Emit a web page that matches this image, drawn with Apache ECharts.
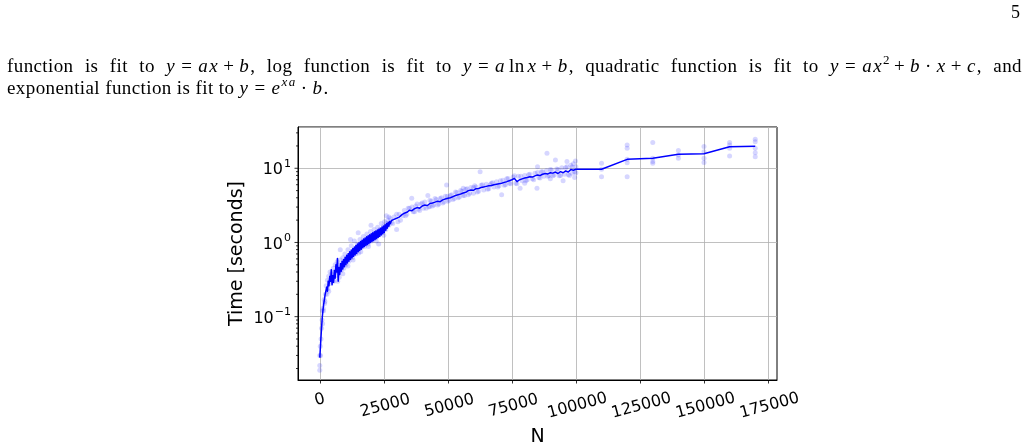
<!DOCTYPE html>
<html><head><meta charset="utf-8">
<script src="https://cdn.jsdelivr.net/npm/echarts@6/dist/echarts.min.js"></script>
<style>
html,body{margin:0;padding:0;background:#fff;width:1028px;height:447px;overflow:hidden;}
#chart{position:absolute;left:0;top:0;width:1028px;height:447px;}
.txt{position:absolute;font-family:"Liberation Serif","DejaVu Serif",serif;font-size:19px;color:#000;white-space:nowrap;line-height:22px;letter-spacing:0.4px;}
#pg{left:1011px;top:1px;letter-spacing:0;font-size:18px;}
#l1{left:7px;top:55px;width:1015px;text-align:justify;text-align-last:justify;white-space:normal;}
#l2{left:7px;top:77px;}
sup{font-size:13px;line-height:0;vertical-align:0;position:relative;top:-8px;}
i{font-style:italic;letter-spacing:1.5px;}
.rel{margin:0 6px 0 5px;}
.bin{margin:0 5px 0 4px;}
.fn{margin:0 3px 0 3px;}
</style></head>
<body>
<div id="chart"></div>
<div class="txt" id="pg">5</div>
<div class="txt" id="l1">function is fit to <i>y</i><span class="rel">=</span><i>ax</i><span class="bin">+</span><i>b</i>, log function is fit to <i>y</i><span class="rel">=</span><i>a</i><span class="fn">ln</span><i>x</i><span class="bin">+</span><i>b</i>, quadratic function is fit to <i>y</i><span class="rel">=</span><i>ax</i><sup>2</sup><span class="bin">+</span><i>b</i><span class="bin">·</span><i>x</i><span class="bin">+</span><i>c</i>, and</div>
<div class="txt" id="l2">exponential function is fit to <i>y</i><span class="rel">=</span><i>e</i><sup><i>xa</i></sup><span class="bin">·</span><i>b</i>.</div>
<script>
// ---- data ----
const xTicks = [0, 25000, 50000, 75000, 100000, 125000, 150000, 175000];
const yMajorTicks = [0.1, 1, 10];
const yMinorTicks = [0.02,0.03,0.04,0.05,0.06,0.07,0.08,0.09,0.2,0.3,0.4,0.5,0.6,0.7,0.8,0.9,2,3,4,5,6,7,8,9,20,30];

// mean run time per N (seconds)
const meanCurve = [
[0,0.028],[200,0.036],[400,0.048],[600,0.062],[800,0.08],[1000,0.1],[1200,0.118],[1500,0.145],[1800,0.17],[2100,0.2],[2400,0.19],[2700,0.25],[3000,0.22],[3300,0.3],[3600,0.26],[3900,0.35],[4200,0.3],[4500,0.43],[4800,0.27],[5100,0.36],[5400,0.29],[5700,0.42],[6000,0.33],[6300,0.5],[6600,0.4],[6900,0.61],[7200,0.3],[7500,0.46],[7800,0.37],[8100,0.52],[8400,0.41],[8700,0.56],[9000,0.44],[9300,0.59],[9600,0.47],[9900,0.63],[10200,0.5],[10500,0.67],[10800,0.53],[11100,0.71],[11400,0.56],[11700,0.75],[12000,0.59],[12300,0.79],[12600,0.62],[12900,0.83],[13200,0.65],[13500,0.87],[13800,0.68],[14100,0.91],[14400,0.71],[14700,0.95],[15000,0.75],[15300,0.99],[15600,0.78],[15900,1.03],[16200,0.81],[16500,1.07],[16800,0.85],[17100,1.11],[17400,0.88],[17700,1.15],[18000,0.91],[18300,1.19],[18600,0.94],[18900,1.23],[19200,0.97],[19500,1.27],[19800,1.0],[20100,1.31],[20400,1.03],[20700,1.35],[21000,1.06],[21300,1.39],[21600,1.1],[21900,1.43],[22200,1.13],[22500,1.47],[22800,1.17],[23100,1.51],[23400,1.21],[23700,1.56],[24000,1.26],[24300,1.61],[24600,1.31],[24900,1.67],[25200,1.37],[25500,1.73],[25800,1.46],[26100,1.8],[26400,1.56],[26700,1.87],[27000,1.66],[27300,1.92],[27600,1.8],[28000,1.98],
[29000,2.05],[30000,2.12],[31000,2.2],[32000,2.35],[33000,2.48],[34000,2.55],[35000,2.72],[36000,2.68],[37000,2.85],[38000,2.95],[39000,2.9],[40000,3.1],[41000,3.2],[42000,3.15],[43000,3.35],[44000,3.4],[45000,3.5],[46000,3.6],[47000,3.55],[48000,3.75],[49000,3.85],[50000,3.95],[51000,4.0],[52000,4.15],[53000,4.3],[54000,4.4],[55000,4.5],[56000,4.65],[57000,4.75],[58000,5.0],[59000,5.1],[60000,5.05],[61000,5.3],[62000,5.35],[63000,5.5],[64000,5.6],[65000,5.7],[66000,5.8],[67000,5.85],[68000,6.0],[69000,6.1],[70000,6.2],[71000,6.3],[72000,6.45],[73000,6.6],[74000,6.8],[75000,7.0],[76000,7.3],[77000,6.6],[78000,7.0],[79000,7.2],[80000,7.4],[81000,7.5],[82000,7.7],[83000,7.6],[84000,7.9],[85000,8.1],[86000,8.0],[87000,8.3],[88000,8.5],[89000,8.4],[90000,8.7],[91000,8.6],[92000,8.9],[93000,8.5],[94000,9.0],[95000,8.7],[96000,9.2],[97000,8.9],[98000,9.6],[99000,9.4],[100000,9.7],
[110000,9.7],[120000,13.2],[130000,13.6],[140000,15.4],[150000,15.7],[160000,19.5],[170000,19.8]
];

// individual runs (seconds)
const runPoints = [
[0,0.019],[0,0.022],[0,0.03],[200,0.04],[300,0.03],[500,0.05],[700,0.07],[900,0.09],[1100,0.08],[1300,0.13],[1500,0.12],[1700,0.17],[1900,0.15],[2200,0.2],[2500,0.26],[2800,0.2],[3000,0.31],[3200,0.24],[3500,0.35],[3800,0.3],[4000,0.4],[4300,0.28],[4600,0.38],[5000,0.33],[5300,0.45],[5600,0.3],[6000,0.5],[6300,0.36],[6800,0.55],[7000,0.4],[7300,0.5],[7600,0.34],[8000,0.58],[8300,0.42],[8700,0.48],[9000,0.62],[9400,0.45],[9800,0.7],[10200,0.5],[10500,0.6],[11000,0.8],[11400,0.56],[11800,0.68],[12300,0.9],[12700,0.62],[13100,0.75],[13500,1.05],[14000,0.7],[14400,0.85],[14800,0.95],[15200,0.72],[15700,1.1],[16100,0.85],[16600,0.98],[17000,1.2],[17500,0.88],[18000,1.05],[18400,1.3],[18900,0.95],[19300,1.15],[19800,1.4],[20300,1.05],[20700,1.25],[21200,1.5],[21700,1.15],[22100,1.35],[22600,1.6],[23000,1.25],[23500,1.5],[24000,1.8],[24400,1.35],[24900,1.65],[25300,1.9],[25800,1.5],[26200,1.8],[26600,2.0],[27000,1.7],[27500,2.1],[27900,1.85],[26000,2.3],[20000,1.7],[15000,1.35],[12000,1.1],[8000,0.8],[30000,1.5],[23000,0.95],
[1000,0.12],[2000,0.16],[3500,0.22],[5500,0.4],[7000,0.3],[9000,0.38],[11000,0.48],[13000,0.58],[16000,0.75],[19000,0.88],[22000,1.05],[25000,1.25],
[29000,2.2],[30500,1.9],[31000,2.4],[32500,2.3],[33000,2.7],[34000,2.4],[35000,2.9],[35900,3.95],[36500,2.6],[37500,3.1],[38500,2.8],[39500,3.3],[40500,2.9],[41000,3.5],[42200,4.3],[42500,3.0],[43500,3.6],[44500,3.2],[45500,3.8],[46500,3.3],[47500,4.0],[48500,3.5],[49500,5.95],[49800,4.2],[50500,3.7],[51500,4.4],[52500,3.9],[53500,4.7],[54500,4.1],[55500,4.9],[56500,4.3],[57500,5.3],[58000,4.4],[59000,5.5],[60000,4.6],[61000,5.6],[62000,4.9],[62600,9.0],[63000,5.9],[64000,5.1],[65000,6.1],[66000,5.3],[67000,6.3],[68000,5.6],[69000,6.6],[70000,5.8],[71000,4.4],[71500,6.9],[72500,6.0],[73500,7.3],[74500,6.2],[75500,7.6],[76500,6.3],[77500,7.8],[78200,5.4],[79000,6.8],[80000,8.0],[81000,7.0],[82000,8.3],[83000,7.2],[84000,8.6],[84800,5.4],[85500,7.5],[86500,9.0],[87500,7.8],[88700,15.9],[88500,9.3],[89500,8.0],[90500,9.5],[91500,8.1],[92000,12.9],[92500,9.8],[93500,7.9],[94500,10.2],[95500,8.3],[96500,12.3],[96500,10.5],[97500,8.0],[98000,11.0],[98500,8.6],[99000,11.5],[99500,7.5],[100000,10.5],[100000,8.7],[99800,12.5],[95000,6.8],[90000,7.2],[85000,10.5],[80000,6.3],
[27000,2.2],[28500,1.8],[30000,2.4],[31500,2.0],[33500,2.3],[34500,2.9],[36000,3.0],[37000,2.6],[38000,3.3],[39000,2.7],[40000,3.4],[41500,2.9],[43000,3.7],[44000,3.1],[45000,3.9],[46000,3.2],[47000,3.9],[48000,3.4],[49000,4.2],[50000,3.6],[51000,4.3],[52000,3.8],[53000,4.8],[54000,4.0],[55000,5.0],[56000,4.3],[57000,5.2],[58500,4.6],[60000,5.5],[61500,4.8],[63500,6.0],[65500,5.2],[67500,6.4],[69500,5.6],[70500,6.8],[72000,5.9],[73000,7.2],[74000,6.3],[76000,7.9],[77000,6.2],[78500,7.8],[80500,6.8],[81500,8.2],[83500,7.0],[85000,8.8],[86000,7.4],[87000,9.0],[89000,7.8],[90000,9.6],[91000,7.9],[93000,9.6],[94000,8.0],[96000,10.2],[97000,8.2],[98500,10.4],[99500,9.0],[60500,5.8],[66500,6.0],[56000,5.4],[43000,3.05],
[110000,9.7],[110000,11.7],[110000,7.7],[120000,20.6],[120000,18.6],[120000,13.2],[120000,11.9],[120000,7.7],[130000,22.2],[130000,13.6],[130000,12.3],[130000,11.7],[140000,17.3],[140000,15.1],[140000,13.6],[150000,19.6],[150000,16.7],[150000,13.6],[150000,12.0],[160000,22.2],[160000,20.6],[160000,18.6],[160000,14.6],[170000,24.6],[170000,22.8],[170000,18.6],[170000,16.2],[170000,14.3]
];

const X_MIN = -8500, X_MAX = 178500, Y_MIN = 0.014, Y_MAX = 36;
const FONT = 'DejaVu Sans';

function tickSeries(vals, len) {
  return {
    type: 'custom', silent: true, clip: false, z: 5,
    data: vals.map(v => [X_MIN, v]),
    renderItem: function (params, api) {
      const p = api.coord([api.value(0), api.value(1)]);
      return { type: 'line', shape: { x1: p[0] - len, y1: p[1], x2: p[0], y2: p[1] },
        style: { stroke: '#000', lineWidth: 0.8 } };
    }
  };
}

const chart = echarts.init(document.getElementById('chart'));
chart.setOption({
  animation: false,
  grid: { left: 298, top: 127, width: 479, height: 253, show: true, borderColor: '#000', borderWidth: 1,
    backgroundColor: 'transparent', containLabel: false, outerBoundsMode: 'none' },
  xAxis: {
    type: 'value', min: X_MIN, max: X_MAX,
    name: 'N', nameLocation: 'middle', nameGap: 48,
    nameTextStyle: { fontFamily: FONT, fontSize: 19, color: '#000' },
    axisLine: { show: true, onZero: false, lineStyle: { color: '#000', width: 1 } },
    axisTick: { show: true, inside: false, length: 3.5, customValues: xTicks, lineStyle: { color: '#000', width: 0.8 } },
    axisLabel: { customValues: xTicks, rotate: 15, align: 'center', verticalAlign: 'middle', margin: 20,
      fontFamily: FONT, fontSize: 16, color: '#000',
      formatter: v => String(v).length > 1 ? '{w|' + v + '}' : '{n|' + v + '}',
      rich: {
        n: { fontFamily: FONT, fontSize: 16, color: '#000' },
        w: { fontFamily: FONT, fontSize: 16, color: '#000', padding: [12, 0, 0, 0] }
      }
    },
    splitLine: { show: true, lineStyle: { color: '#b0b0b0', width: 0.8 } }
  },
  yAxis: {
    type: 'log', logBase: 10, min: Y_MIN, max: Y_MAX,
    name: 'Time [seconds]', nameLocation: 'middle', nameGap: 51, nameRotate: 90,
    nameTextStyle: { fontFamily: FONT, fontSize: 19, color: '#000' },
    axisLine: { show: true, onZero: false, lineStyle: { color: '#000', width: 1 } },
    axisTick: { show: false },
    axisLabel: {
      margin: 7, color: '#000',
      formatter: function (v) {
        const e = Math.log10(v);
        const r = Math.round(e);
        if (Math.abs(e - r) > 1e-6) return '';
        return '{b|10}{s|' + (r < 0 ? '\u2212' + (-r) : r) + '}';
      },
      rich: {
        b: { fontFamily: FONT, fontSize: 16, color: '#000', verticalAlign: 'bottom' },
        s: { fontFamily: FONT, fontSize: 11, color: '#000', verticalAlign: 'bottom', padding: [0, 0, 9, 1] }
      }
    },
    splitLine: { show: true, lineStyle: { color: '#b0b0b0', width: 0.8 } }
  },
  series: [
    { type: 'scatter', data: runPoints, symbolSize: 5, silent: true,
      itemStyle: { color: 'rgba(0,0,255,0.2)' }, z: 2 },
    { type: 'line', data: meanCurve, showSymbol: false, symbol: 'none', silent: true,
      lineStyle: { color: '#0000ff', width: 1.5, join: 'round' }, z: 3 },
    tickSeries(yMajorTicks, 3.5),
    tickSeries(yMinorTicks, 2)
  ]
});
</script>
</body></html>
